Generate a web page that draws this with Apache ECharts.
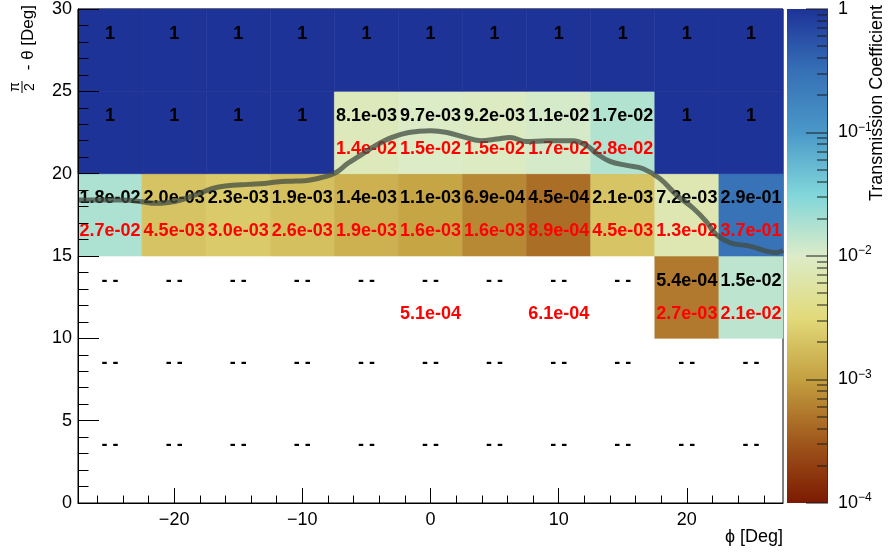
<!DOCTYPE html>
<html><head><meta charset="utf-8">
<script src="https://cdn.jsdelivr.net/npm/echarts@6/dist/echarts.min.js"></script>
<style>html,body{margin:0;padding:0;background:#fff}#c{width:888px;height:556px}</style>
</head><body><div id="c"></div>
<script>
// ---- data ----
const phiCenters = [-25, -20, -15, -10, -5, 0, 5, 10, 15, 20, 25];
const thetaCenters = [2.5, 7.5, 12.5, 17.5, 22.5, 27.5];
// transmission coefficient (black labels, drives the colour)
const black_2_5  = [null, null, null, null, null, null, null, null, null, null, null];
const black_7_5  = [null, null, null, null, null, null, null, null, null, null, null];
const black_12_5 = [null, null, null, null, null, null, null, null, null, 5.4e-4, 1.5e-2];
const black_17_5 = [1.8e-2, 2.0e-3, 2.3e-3, 1.9e-3, 1.4e-3, 1.1e-3, 6.9e-4, 4.5e-4, 2.1e-3, 7.2e-3, 2.9e-1];
const black_22_5 = [1, 1, 1, 1, 8.1e-3, 9.7e-3, 9.2e-3, 1.1e-2, 1.7e-2, 1, 1];
const black_27_5 = [1, 1, 1, 1, 1, 1, 1, 1, 1, 1, 1];
// second value (red labels)
const red_2_5  = [null, null, null, null, null, null, null, null, null, null, null];
const red_7_5  = [null, null, null, null, null, null, null, null, null, null, null];
const red_12_5 = [null, null, null, null, null, 5.1e-4, null, 6.1e-4, null, 2.7e-3, 2.1e-2];
const red_17_5 = [2.7e-2, 4.5e-3, 3.0e-3, 2.6e-3, 1.9e-3, 1.6e-3, 1.6e-3, 8.9e-4, 4.5e-3, 1.3e-2, 3.7e-1];
const red_22_5 = [null, null, null, null, 1.4e-2, 1.5e-2, 1.5e-2, 1.7e-2, 2.8e-2, null, null];
const red_27_5 = [null, null, null, null, null, null, null, null, null, null, null];
// grey curve
const curvePhi   = [-27.5, -26, -24, -22.5, -21.5, -20.5, -19.5, -18.2, -17, -16, -14.2, -13, -12, -10.5, -9.5, -8.3, -7.3, -6.5, -5.5, -4.3, -3, -1.7, 0, 1.3, 2.5, 3.9, 5.2, 6.2, 7.5, 9.1, 11.1, 12.2, 13.0, 14.0, 15.3, 16.6, 17.9, 19.2, 20.5, 21.5, 22.3, 23.4, 24.9, 26.2, 27.0, 27.5];
const curveTheta = [18.4, 18.4, 18.4, 18.3, 18.2, 18.25, 18.4, 18.75, 19.1, 19.25, 19.35, 19.4, 19.5, 19.55, 19.6, 19.8, 20.1, 20.6, 21.1, 21.7, 22.2, 22.5, 22.6, 22.5, 22.25, 22.0, 22.1, 22.2, 21.95, 22.0, 22.0, 21.7, 21.2, 20.75, 20.5, 20.3, 19.7, 18.7, 17.9, 17.1, 16.3, 15.8, 15.6, 15.3, 15.2, 15.35];
// ticks
const xTickValues = [-20, -10, 0, 10, 20];
const xMinorTickValues = [-26, -24, -22, -18, -16, -14, -12, -8, -6, -4, -2, 2, 4, 6, 8, 12, 14, 16, 18, 22, 24, 26];
const zExponents = [0, -1, -2, -3, -4];
const paletteColors = ['#7c1a02', '#a0581c', '#c4a040', '#e2da7a', '#dcecc8', '#80d6da', '#4a98c8', '#3670b6', '#1e3398'];

// ---- build ----
const FONT = "'Liberation Sans', Arial, Helvetica, sans-serif";
const blackRows = [black_2_5, black_7_5, black_12_5, black_17_5, black_22_5, black_27_5];
const redRows = [red_2_5, red_7_5, red_12_5, red_17_5, red_22_5, red_27_5];

function fmt(v) {
  if (v === 1) return '1';
  const s = v.toExponential(1);
  const parts = s.split('e');
  const n = parseInt(parts[1], 10);
  const a = Math.abs(n);
  return parts[0] + 'e' + (n < 0 ? '-' : '+') + (a < 10 ? '0' + a : '' + a);
}

const cells = [];
const blackLabels = [], blackText = [];
const redLabels = [], redText = [];
thetaCenters.forEach((th, r) => {
  phiCenters.forEach((ph, c) => {
    const v = blackRows[r][c];
    if (v != null) cells.push([ph, th, Math.log10(v)]);
    blackLabels.push([ph, th]);
    blackText.push(v == null ? '- -' : fmt(v));
    const rv = redRows[r][c];
    if (rv != null) { redLabels.push([ph, th]); redText.push(fmt(rv)); }
  });
});

const zTicks = [];
zExponents.forEach(e => zTicks.push([e, 22]));
zExponents.slice(1).forEach(e => { for (let k = 2; k <= 9; k++) zTicks.push([Math.log10(k) + e, 11]); });

const chart = echarts.init(document.getElementById('c'), null, {renderer: 'canvas'});

const halfW = 2.5, halfH = 2.5;
const CB = {left: 787, top: 6, width: 41, height: 497};

const option = {
  animation: false,
  backgroundColor: '#fff',
  grid: [
    {left: 78, top: 6, width: 705, height: 497, show: true, borderColor: '#000', borderWidth: 1, backgroundColor: 'transparent'},
    {left: CB.left, top: CB.top, width: CB.width, height: CB.height, show: false}
  ],
  xAxis: [
    {gridIndex: 0, type: 'value', min: -27.5, max: 27.5, position: 'bottom', z: 10,
      axisLine: {show: true, onZero: false, lineStyle: {color: '#000', width: 1}},
      axisTick: {show: true, inside: true, length: 15, customValues: xTickValues, lineStyle: {color: '#000'}},
      axisLabel: {show: true, customValues: xTickValues, margin: 8, color: '#000', fontSize: 18, fontFamily: FONT,
        formatter: v => (v < 0 ? '\u2212' + (-v) : '' + v)},
      splitLine: {show: false}},
    {gridIndex: 0, type: 'value', min: -27.5, max: 27.5, position: 'bottom', z: 10,
      axisLine: {show: false, onZero: false},
      axisTick: {show: true, inside: true, length: 7.5, customValues: xMinorTickValues, lineStyle: {color: '#000'}},
      axisLabel: {show: false}, splitLine: {show: false}},
    {gridIndex: 1, type: 'value', min: 0, max: 1, show: false, axisLine: {onZero: false}}
  ],
  yAxis: [
    {gridIndex: 0, type: 'value', min: 0, max: 30, interval: 5, z: 10,
      axisLine: {show: true, onZero: false, lineStyle: {color: '#000', width: 1}},
      axisTick: {show: true, inside: true, length: 21, lineStyle: {color: '#000'}},
      minorTick: {show: true, splitNumber: 5, length: 10.5, lineStyle: {color: '#000'}},
      axisLabel: {margin: 6, color: '#000', fontSize: 18, fontFamily: FONT},
      splitLine: {show: false}, minorSplitLine: {show: false}},
    {gridIndex: 1, type: 'value', min: -4, max: 0, interval: 1, position: 'right', z: 10,
      axisLine: {show: false, onZero: false},
      axisTick: {show: false},
      axisLabel: {margin: 10, color: '#000', fontFamily: FONT,
        formatter: v => (v === 0 ? '{b|1}' : '{b|10}{s|\u2212' + (-v) + '}'),
        rich: {b: {fontSize: 18, fontFamily: FONT, color: '#000', lineHeight: 22},
               s: {fontSize: 12, fontFamily: FONT, color: '#000', verticalAlign: 'top', lineHeight: 12}}},
      splitLine: {show: false}}
  ],
  visualMap: [{
    type: 'continuous', show: false, min: -4, max: 0, dimension: 2, seriesIndex: 0,
    inRange: {color: paletteColors}
  }],
  series: [
    {type: 'custom', name: 'cells', xAxisIndex: 0, yAxisIndex: 0, z: 2, data: cells,
      renderItem: (params, api) => {
        const p0 = api.coord([api.value(0) - halfW, api.value(1) + halfH]);
        const p1 = api.coord([api.value(0) + halfW, api.value(1) - halfH]);
        const col = api.visual('color');
        return {type: 'rect', shape: {x: p0[0], y: p0[1], width: p1[0] - p0[0], height: p1[1] - p0[1]},
          style: {fill: col, stroke: col, lineWidth: 0.6}};
      }},
    {type: 'custom', name: 'blackLabels', xAxisIndex: 0, yAxisIndex: 0, z: 5, data: blackLabels, silent: true,
      renderItem: (params, api) => {
        const p = api.coord([api.value(0), api.value(1) + 1]);
        return {type: 'text', x: p[0], y: p[1],
          style: {text: blackText[params.dataIndex], fill: '#000', font: 'bold 18px ' + FONT, align: 'center', verticalAlign: 'middle'}};
      }},
    {type: 'custom', name: 'redLabels', xAxisIndex: 0, yAxisIndex: 0, z: 5, data: redLabels, silent: true,
      renderItem: (params, api) => {
        const p = api.coord([api.value(0), api.value(1) - 1]);
        return {type: 'text', x: p[0], y: p[1],
          style: {text: redText[params.dataIndex], fill: '#ff0000', font: 'bold 18px ' + FONT, align: 'center', verticalAlign: 'middle'}};
      }},
    {type: 'line', name: 'curve', xAxisIndex: 0, yAxisIndex: 0, z: 6,
      data: curvePhi.map((x, i) => [x, curveTheta[i]]),
      smooth: 0.4, showSymbol: false, symbol: 'none',
      lineStyle: {width: 5, color: 'rgba(66,76,66,0.75)'}}
  ]
};
chart.setOption(option);

// colour bar (gradient + ticks) positioned through the colour-bar axis
function px(v) { const p = chart.convertToPixel({yAxisIndex: 1}, v); return isFinite(p) ? p : CB.top + CB.height * (-v) / 4; }
const xRight = CB.left + CB.width;
const yTop = px(0), yBot = px(-4);
const cbChildren = [
  {type: 'rect', shape: {x: CB.left, y: yTop, width: CB.width, height: yBot - yTop},
    style: {fill: new echarts.graphic.LinearGradient(0, 1, 0, 0,
      paletteColors.map((c, i) => ({offset: i / (paletteColors.length - 1), color: c})))}}
];
zTicks.forEach(t => {
  const y = Math.round(px(t[0]));
  cbChildren.push({type: 'rect', shape: {x: xRight - t[1], y: y - 0.5, width: t[1], height: 1}, style: {fill: '#1a1a1a'}});
});
cbChildren.push({type: 'rect', shape: {x: xRight - 1, y: yTop, width: 1, height: yBot - yTop}, style: {fill: '#333'}});

const titles = [
  {type: 'text', x: 783, y: 537, style: {text: '\u03d5 [Deg]', font: '18px ' + FONT, fill: '#000', align: 'right', verticalAlign: 'middle'}},
  {type: 'text', x: 877, y: 5, rotation: Math.PI / 2,
    style: {text: 'Transmission Coefficient', font: '18px ' + FONT, fill: '#000', align: 'right', verticalAlign: 'middle'}},
  {type: 'text', x: 28, y: 5, rotation: Math.PI / 2,
    style: {text: '- \u03b8 [Deg]', font: '17px ' + FONT, fill: '#000', align: 'right', verticalAlign: 'middle'}},
  {type: 'text', x: 15, y: 87, rotation: Math.PI / 2,
    style: {text: '\u03c0', font: '14px ' + FONT, fill: '#000', align: 'center', verticalAlign: 'middle'}},
  {type: 'rect', shape: {x: 21.5, y: 81, width: 1, height: 12}, style: {fill: '#000'}},
  {type: 'text', x: 30, y: 87, rotation: Math.PI / 2,
    style: {text: '2', font: '14px ' + FONT, fill: '#000', align: 'center', verticalAlign: 'middle'}}
];

chart.setOption({graphic: {elements: [
  {type: 'group', id: 'colorbar', silent: true, zlevel: 1, z: 50, children: cbChildren},
  {type: 'group', id: 'titles', silent: true, z: 50, children: titles}
]}});
</script>
</body></html>
